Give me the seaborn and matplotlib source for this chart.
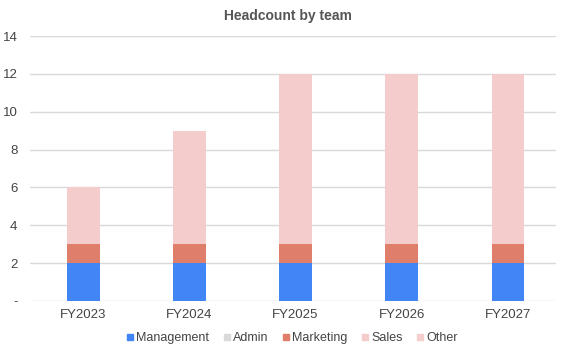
import seaborn as sns
import matplotlib.pyplot as plt
import pandas as pd
import numpy as np
from matplotlib.lines import Line2D

# data
years = ["FY2023", "FY2024", "FY2025", "FY2026", "FY2027"]
management = [2, 2, 2, 2, 2]
admin = [0, 0, 0, 0, 0]
marketing = [1, 1, 1, 1, 1]
sales = [3, 6, 9, 9, 9]
other = [0, 0, 0, 0, 0]

series_names = ["Management", "Admin", "Marketing", "Sales", "Other"]
series_colors = ["#4285F4", "#D9D9D9", "#DE7E6B", "#F4CCCC", "#F4CDCD"]

df = pd.DataFrame({
    "Year": years,
    "Management": management,
    "Admin": admin,
    "Marketing": marketing,
    "Sales": sales,
    "Other": other,
})

# cumulative tops for the stack
cum = df[series_names].cumsum(axis=1)

sns.set_style("white")
plt.rcParams["font.family"] = ["Liberation Sans", "DejaVu Sans"]

fig = plt.figure(figsize=(5.76, 3.54), dpi=100)
ax = fig.add_axes([0.052, 0.150, 0.913, 0.748])

# draw tallest first so lower segments sit on top
for name, color in reversed(list(zip(series_names, series_colors))):
    sns.barplot(x=df["Year"], y=cum[name], color=color, width=0.31,
                saturation=1, linewidth=0, edgecolor="none", ax=ax, zorder=3)

ax.set_ylim(0, 14)
ax.set_yticks(np.arange(0, 15, 2))
ax.set_yticklabels(["-"] + [str(v) for v in range(2, 15, 2)])
ax.set_xlim(-0.5, 4.45)
ax.yaxis.grid(True, color="#D9D9D9", linewidth=1, zorder=0)
ax.xaxis.grid(False)
for s in ax.spines.values():
    s.set_visible(False)
ax.tick_params(axis="both", length=0, labelsize=9.5, colors="#444444")
ax.tick_params(axis="y", pad=9)
ax.tick_params(axis="x", pad=6)
ax.set_xlabel("")
ax.set_ylabel("")

fig.suptitle("Headcount by team", x=0.5, y=0.975, fontsize=10,
             fontweight="bold", color="#555555")

handles = [Line2D([0], [0], marker="s", linestyle="", markersize=5,
                  markerfacecolor=c, markeredgecolor=c) for c in series_colors]
fig.legend(handles, series_names, loc="center", bbox_to_anchor=(0.505, 0.045),
           ncol=5, frameon=False, fontsize=9, handletextpad=0.0,
           handlelength=1.0, columnspacing=0.9, labelcolor="#444444")

plt.savefig("out.png", dpi=100)
